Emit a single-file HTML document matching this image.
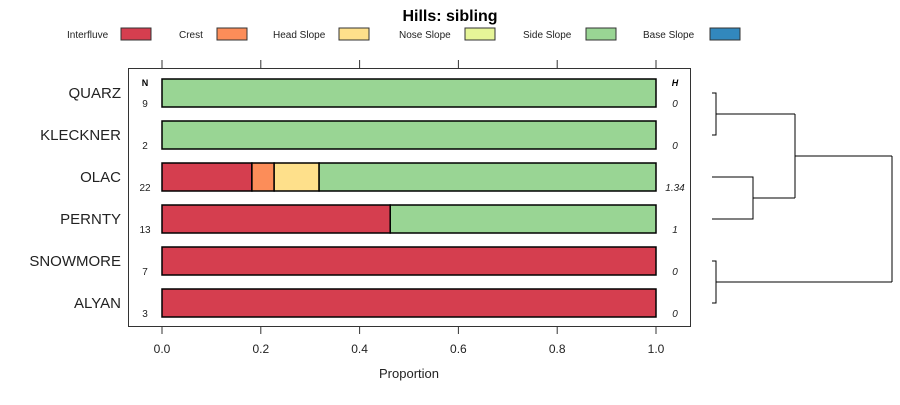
<!DOCTYPE html>
<html><head><meta charset="utf-8"><style>body{margin:0;background:#fff}svg text{font-family:"Liberation Sans",sans-serif}</style></head>
<body>
<svg id="c" width="900" height="400"></svg>
<script>
const categories=["QUARZ","KLECKNER","OLAC","PERNTY","SNOWMORE","ALYAN"];
const counts=[9,2,22,13,7,3];
const entropy=["0","0","1.34","1","0","0"];
const classes=["Interfluve","Crest","Head Slope","Nose Slope","Side Slope","Base Slope"];
const colors=["#D53E4F","#FC8D59","#FEE08B","#E6F598","#99D594","#3288BD"];
const interfluve=[0,0,0.182,0.462,1,1];
const crest=[0,0,0.045,0,0,0];
const headSlope=[0,0,0.091,0,0,0];
const noseSlope=[0,0,0,0,0,0];
const sideSlope=[1,1,0.682,0.538,0,0];
const baseSlope=[0,0,0,0,0,0];
const ticks=[0,0.2,0.4,0.6,0.8,1.0];
const series=[interfluve,crest,headSlope,noseSlope,sideSlope,baseSlope];
const svg=document.getElementById('c');const NS='http://www.w3.org/2000/svg';
function el(t,a,p){const e=document.createElementNS(NS,t);for(const k in a)e.setAttribute(k,a[k]);(p||svg).appendChild(e);return e;}
const x=v=>162+v*494;const y=i=>93+i*42;
let t=el('text',{x:450,y:21,'text-anchor':'middle','font-size':16,'font-weight':'bold'});t.textContent='Hills: sibling';

const lx=[67,179,273,399,523,643];const bx=[121,217,339,465,586,710];
classes.forEach((c,i)=>{const g=el('g',{});
const tt=el('text',{x:lx[i],y:38,'font-size':10,fill:'#222'},g);tt.textContent=c;
el('rect',{x:bx[i],y:28,width:30,height:12,fill:colors[i],stroke:'#333','stroke-width':1},g);});
const box=el('rect',{x:128.5,y:68.5,width:562,height:258,fill:'none',stroke:'#333'});

ticks.forEach(v=>{el('line',{x1:x(v),x2:x(v),y1:60,y2:68,stroke:'#333'});el('line',{x1:x(v),x2:x(v),y1:327,y2:334,stroke:'#333'});
const l=el('text',{x:x(v),y:353,'text-anchor':'middle','font-size':12,fill:'#222'});l.textContent=v.toFixed(1);
});
let xt=el('text',{x:409,y:378,'text-anchor':'middle','font-size':13,fill:'#222'});xt.textContent='Proportion';

let h=el('text',{x:145,y:86,'text-anchor':'middle','font-size':9,'font-weight':'bold'});h.textContent='N';
h=el('text',{x:675,y:86,'text-anchor':'middle','font-size':9,'font-weight':'bold','font-style':'italic'});h.textContent='H';
categories.forEach((c,i)=>{const cy=y(i);
const l=el('text',{x:121,y:cy+5,'text-anchor':'end','font-size':15,fill:'#222'});l.textContent=c;

const n=el('text',{x:145,y:cy+14,'text-anchor':'middle','font-size':10,fill:'#222'});n.textContent=counts[i];
const e=el('text',{x:675,y:cy+14,'text-anchor':'middle','font-size':10,'font-style':'italic',fill:'#222'});e.textContent=entropy[i];
let acc=0;series.forEach((s,j)=>{if(s[i]>0){const r=el('rect',{x:x(acc),y:cy-14,width:x(acc+s[i])-x(acc),height:28,fill:colors[j],stroke:'#000','stroke-width':1.5});
acc+=s[i];}});});
const d=el('path',{d:'M712,93H716V135H712M716,114H795M712,177H753V219H712M753,198H795M795,114V198M795,156H892M712,261H716V303H712M716,282H892M892,156V282',fill:'none',stroke:'#000','stroke-width':1});

</script>
</body></html>
